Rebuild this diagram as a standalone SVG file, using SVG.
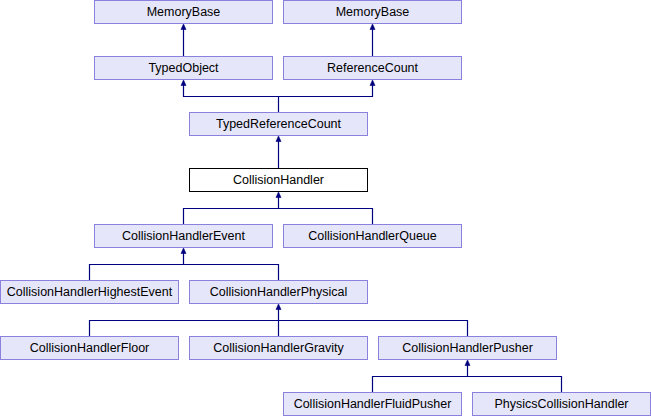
<svg xmlns="http://www.w3.org/2000/svg" width="651" height="416" viewBox="0 0 651 416">
<defs>
<style>
.n rect{fill:#E6E6FA;stroke:#8A80DE;stroke-width:1}
.n.cur rect{fill:#FFFFFF;stroke:#000000}
.n text{font-family:"Liberation Sans",Arial,sans-serif;font-size:12.5px;fill:#000;text-anchor:middle}
.e path{fill:none;stroke:#000080;stroke-width:1.2}
.e polygon{fill:#000080;stroke:#000080;stroke-width:0.6}
</style>
</defs>
<rect width="651" height="416" fill="#FFFFFF"/>
<g id="connectors" class="e">
<path d="M183.5 56.5V28"/><polygon points="183.5,24 181,29.5 186,29.5"/>
<path d="M372.5 56.5V28"/><polygon points="372.5,24 370,29.5 375,29.5"/>
<path d="M278.5 112.5V96.5H183.5V84M278.5 96.5H372.5V84"/>
<polygon points="183.5,80 181,85.5 186,85.5"/><polygon points="372.5,80 370,85.5 375,85.5"/>
<path d="M278.5 168.5V140"/><polygon points="278.5,136 276,141.5 281,141.5"/>
<path d="M183.5 224.5V208.5H372.5V224.5M278.5 208.5V196"/><polygon points="278.5,192 276,197.5 281,197.5"/>
<path d="M89.5 280.5V264.5H278.5V280.5M183.5 264.5V252"/><polygon points="183.5,248 181,253.5 186,253.5"/>
<path d="M89.5 336.5V320.5H467.5V336.5M278.5 336.5V308"/><polygon points="278.5,304 276,309.5 281,309.5"/>
<path d="M372.5 392.5V376.5H561.5V392.5M467.5 376.5V364"/><polygon points="467.5,360 465,365.5 470,365.5"/>
</g>
<g id="MemoryBase1" class="n"><rect x="94.5" y="0.5" width="178" height="23"/><text x="183.5" y="15.5">MemoryBase</text></g>
<g id="MemoryBase2" class="n"><rect x="283.5" y="0.5" width="178" height="23"/><text x="372.5" y="15.5">MemoryBase</text></g>
<g id="TypedObject" class="n"><rect x="94.5" y="56.5" width="178" height="23"/><text x="183.5" y="71.5">TypedObject</text></g>
<g id="ReferenceCount" class="n"><rect x="283.5" y="56.5" width="178" height="23"/><text x="372.5" y="71.5">ReferenceCount</text></g>
<g id="TypedReferenceCount" class="n"><rect x="189.5" y="112.5" width="178" height="23"/><text x="278.5" y="127.5">TypedReferenceCount</text></g>
<g id="CollisionHandler" class="n cur"><rect x="189.5" y="168.5" width="178" height="23"/><text x="278.5" y="183.5">CollisionHandler</text></g>
<g id="CollisionHandlerEvent" class="n"><rect x="94.5" y="224.5" width="178" height="23"/><text x="183.5" y="239.5">CollisionHandlerEvent</text></g>
<g id="CollisionHandlerQueue" class="n"><rect x="283.5" y="224.5" width="178" height="23"/><text x="372.5" y="239.5">CollisionHandlerQueue</text></g>
<g id="CollisionHandlerHighestEvent" class="n"><rect x="0.5" y="280.5" width="178" height="23"/><text x="89.5" y="295.5">CollisionHandlerHighestEvent</text></g>
<g id="CollisionHandlerPhysical" class="n"><rect x="189.5" y="280.5" width="178" height="23"/><text x="278.5" y="295.5">CollisionHandlerPhysical</text></g>
<g id="CollisionHandlerFloor" class="n"><rect x="0.5" y="336.5" width="178" height="23"/><text x="89.5" y="351.5">CollisionHandlerFloor</text></g>
<g id="CollisionHandlerGravity" class="n"><rect x="189.5" y="336.5" width="178" height="23"/><text x="278.5" y="351.5">CollisionHandlerGravity</text></g>
<g id="CollisionHandlerPusher" class="n"><rect x="378.5" y="336.5" width="178" height="23"/><text x="467.5" y="351.5">CollisionHandlerPusher</text></g>
<g id="CollisionHandlerFluidPusher" class="n"><rect x="283.5" y="392.5" width="178" height="23"/><text x="372.5" y="407.5">CollisionHandlerFluidPusher</text></g>
<g id="PhysicsCollisionHandler" class="n"><rect x="472.5" y="392.5" width="178" height="23"/><text x="561.5" y="407.5">PhysicsCollisionHandler</text></g>
</svg>
